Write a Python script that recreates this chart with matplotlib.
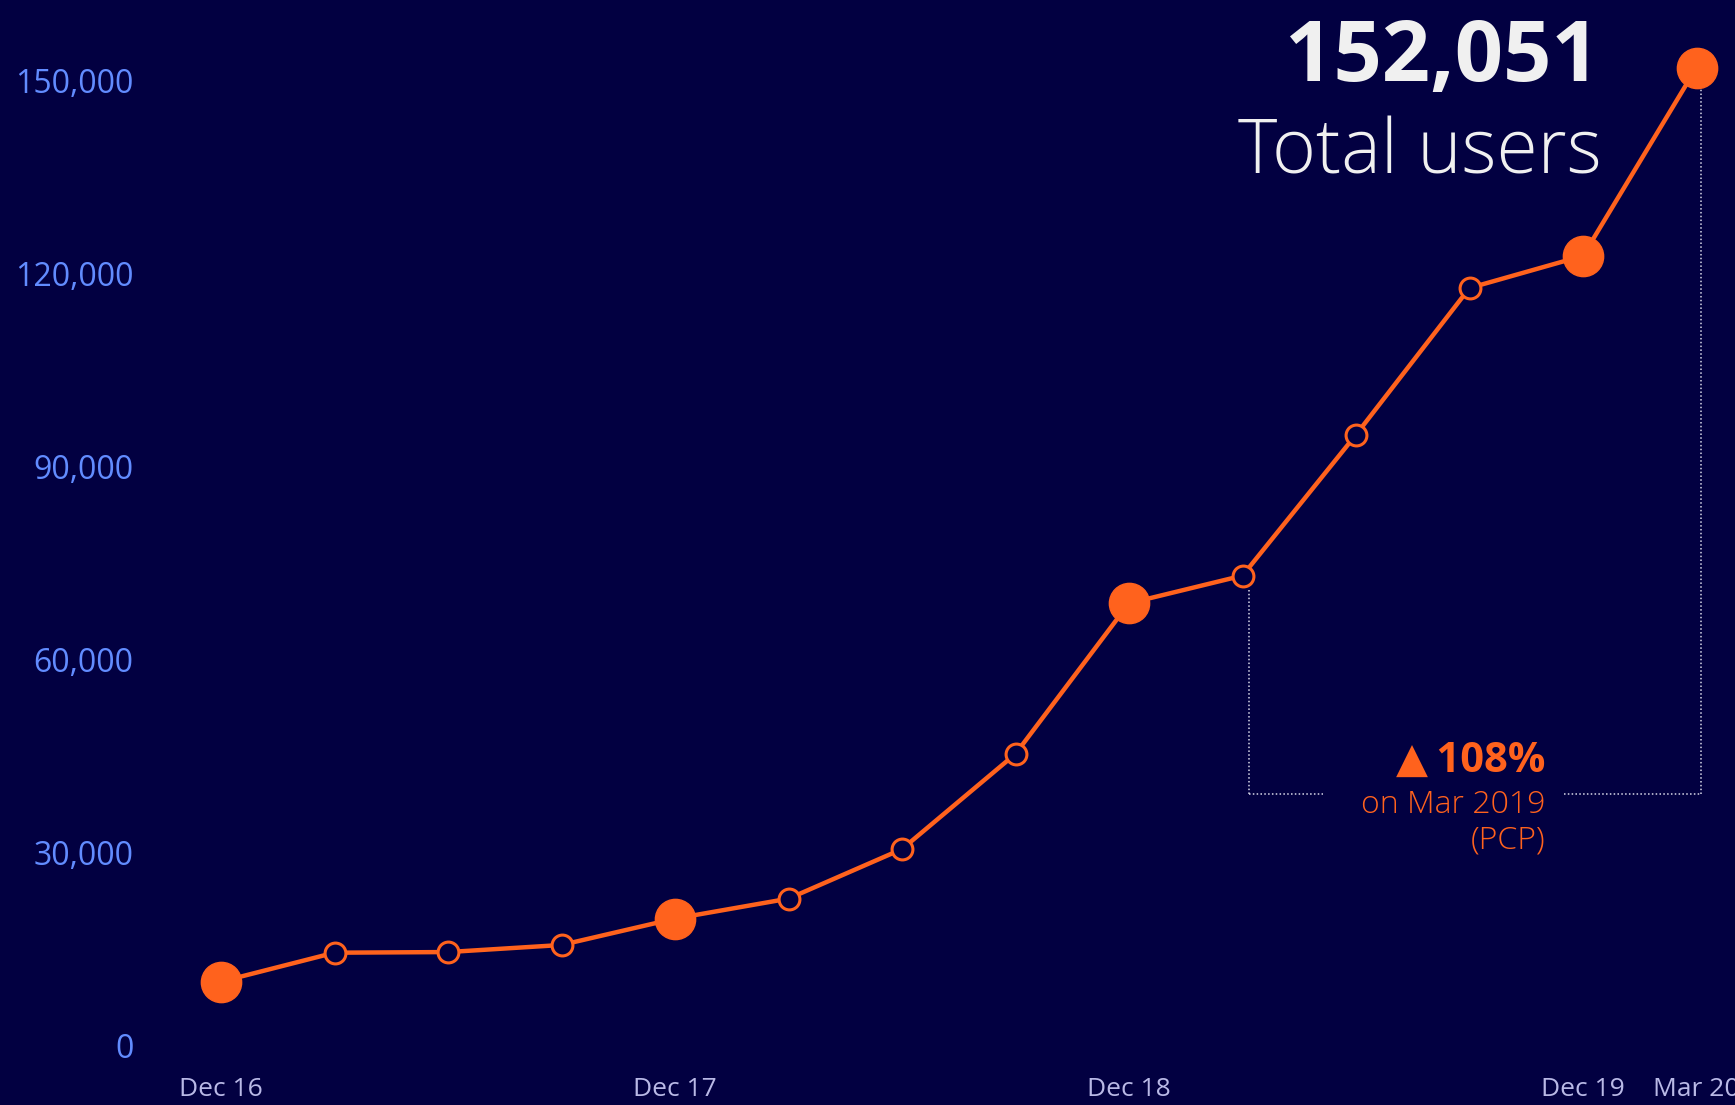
import matplotlib
matplotlib.use("Agg")
import matplotlib.pyplot as plt
from matplotlib.ticker import FuncFormatter

plt.rcParams['font.family'] = ['Open Sans', 'DejaVu Sans']

# quarterly total users, Dec 2016 .. Mar 2020
quarters = ["Dec 16", "Mar 17", "Jun 17", "Sep 17", "Dec 17", "Mar 18", "Jun 18",
            "Sep 18", "Dec 18", "Mar 19", "Jun 19", "Sep 19", "Dec 19", "Mar 20"]
users = [10000, 14500, 14600, 15700, 19800, 22900, 30600,
         45400, 68800, 73100, 95000, 117800, 122800, 152051]
tick_idx = [0, 4, 8, 12, 13]
tick_labels = ["Dec 16", "Dec 17", "Dec 18", "Dec 19", "Mar 20"]
y_ticks = [0, 30000, 60000, 90000, 120000, 150000]
highlight = [0, 4, 8, 12, 13]

bg = "#020041"
orange = "#ff621d"

fig = plt.figure(figsize=(17.35, 11.05), dpi=100, facecolor=bg)
ax = fig.add_axes([150 / 1735, 59 / 1105, 1 - 150 / 1735, 1046 / 1105])
ax.set_facecolor(bg)

x = list(range(len(users)))
ax.plot(x, users, color=orange, lw=3.2, zorder=2, clip_on=False)
hollow = [i for i in x if i not in highlight]
ax.plot(hollow, [users[i] for i in hollow], ls="none", marker="o", ms=15,
        mfc=bg, mec=orange, mew=2.2, zorder=3, clip_on=False)
ax.plot(highlight, [users[i] for i in highlight], ls="none", marker="o", ms=29,
        mfc=orange, mec=orange, zorder=4, clip_on=False)

ax.set_xlim((150 - 221) / 113.5, (1735 - 221) / 113.5)
ax.set_ylim(0, 150000 + 80.8 / 965.2 * 150000)

ax.set_yticks(y_ticks)
ax.yaxis.set_major_formatter(FuncFormatter(lambda v, p: f"{int(v):,}"))
ax.set_xticks(tick_idx)
ax.set_xticklabels(tick_labels)
ax.tick_params(axis="y", length=0, pad=12, labelsize=23, labelcolor="#628cff")
ax.tick_params(axis="x", length=0, pad=22, labelsize=19, labelcolor="#b9b9e6")
for s in ax.spines.values():
    s.set_visible(False)

# bracket from Mar 19 to Mar 20
dot = dict(color="#d8d8e8", lw=1.1, ls=(0, (1, 1.5)), zorder=1)
y_br = 39200
ax.plot([9.06, 9.06], [users[9] - 2200, y_br], **dot)
ax.plot([9.06, 9.71], [y_br, y_br], **dot)
ax.plot([11.83, 13.04], [y_br, y_br], **dot)
ax.plot([13.04, 13.04], [y_br, users[13] - 2500], **dot)

ax.text(1545 / 1735, 1 - 772 / 1105, "▲\u2009108%", transform=fig.transFigure,
        ha="right", va="baseline", fontsize=30, fontweight="bold", color=orange)
ax.text(1545 / 1735, 1 - 813 / 1105, "on Mar 2019", transform=fig.transFigure,
        ha="right", va="baseline", fontsize=23, fontweight="light", color=orange)
ax.text(1545 / 1735, 1 - 849 / 1105, "(PCP)", transform=fig.transFigure,
        ha="right", va="baseline", fontsize=23, fontweight="light", color=orange)

fig.text(1600 / 1735, 1 - 81 / 1105, f"{users[-1]:,}", ha="right", va="baseline",
         fontsize=61, fontweight="bold", color="#f0f0f0")
fig.text(1602 / 1735, 1 - 174 / 1105, "Total users", ha="right", va="baseline",
         fontsize=54, fontweight="light", color="#f0f0f0")

fig.savefig("out.png", dpi=100, facecolor=bg)
